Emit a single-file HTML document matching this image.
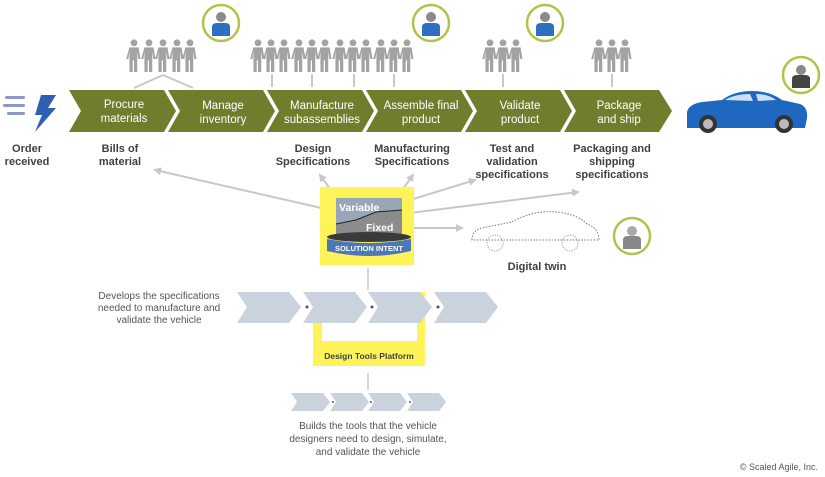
<!DOCTYPE html>
<html><head><meta charset="utf-8"><style>
body{margin:0;background:#fff}
svg{display:block;font-family:"Liberation Sans",sans-serif}
</style></head><body>
<svg width="825" height="477" viewBox="0 0 825 477" xmlns="http://www.w3.org/2000/svg">
<defs>
<g id="p" transform="scale(1.3)"><circle cx="0" cy="-14" r="2.6" fill="#a3a3a3"/><path d="M-3.5,-10.5h7l1.5,9h-1.7l-0.8,-6v16h-2.5v-9h-1v9h-2.5v-16l-0.8,6h-1.7z" fill="#a3a3a3"/></g>
<marker id="a" markerWidth="8" markerHeight="8" refX="6" refY="4" orient="auto" markerUnits="userSpaceOnUse"><path d="M0,0L8,4L0,8z" fill="#c8c8c8"/></marker>
</defs>
<g fill="#8b97c7"><rect x="5" y="96" width="20" height="3" rx="1.5"/><rect x="3" y="104" width="22" height="3" rx="1.5"/><rect x="7" y="112" width="18" height="3" rx="1.5"/></g>
<path d="M41,95h15l-8,13h8l-21,24l7,-17h-7z" fill="#2f5fb4"/>
<text x="27" y="152" font-size="11" font-weight="bold" fill="#404040" text-anchor="middle">Order</text>
<text x="27" y="165" font-size="11" font-weight="bold" fill="#404040" text-anchor="middle">received</text>
<g fill="#6f7d2d">
<path d="M69,90h95l12,21l-12,21h-95l12,-21z"/>
<path d="M168,90h95l12,21l-12,21h-95l12,-21z"/>
<path d="M267,90h95l12,21l-12,21h-95l12,-21z"/>
<path d="M366,90h95l12,21l-12,21h-95l12,-21z"/>
<path d="M465,90h95l12,21l-12,21h-95l12,-21z"/>
<path d="M564,90h95l13,21l-13,21h-95l12,-21z"/>
</g>
<g fill="#fff" font-size="11.5" text-anchor="middle">
<text x="124" y="108">Procure</text><text x="124" y="122">materials</text>
<text x="223" y="109">Manage</text><text x="223" y="123">inventory</text>
<text x="322" y="109">Manufacture</text><text x="322" y="123">subassemblies</text>
<text x="421" y="109">Assemble final</text><text x="421" y="123">product</text>
<text x="520" y="109">Validate</text><text x="520" y="123">product</text>
<text x="619" y="109">Package</text><text x="619" y="123">and ship</text>
</g>
<g fill="#404040" font-size="11" font-weight="bold" text-anchor="middle">
<text x="120" y="152">Bills of</text><text x="120" y="165">material</text>
<text x="313" y="152">Design</text><text x="313" y="165">Specifications</text>
<text x="412" y="152">Manufacturing</text><text x="412" y="165">Specifications</text>
<text x="512" y="152">Test and</text><text x="512" y="165">validation</text><text x="512" y="178">specifications</text>
<text x="612" y="152">Packaging and</text><text x="612" y="165">shipping</text><text x="612" y="178">specifications</text>
</g>
<g>
<use href="#p" x="134" y="61"/><use href="#p" x="149" y="61"/><use href="#p" x="163" y="61"/><use href="#p" x="177" y="61"/><use href="#p" x="190" y="61"/>
<use href="#p" x="258" y="61"/><use href="#p" x="271" y="61"/><use href="#p" x="284" y="61"/><use href="#p" x="299" y="61"/><use href="#p" x="312" y="61"/><use href="#p" x="325" y="61"/><use href="#p" x="340" y="61"/><use href="#p" x="353" y="61"/><use href="#p" x="366" y="61"/><use href="#p" x="381" y="61"/><use href="#p" x="394" y="61"/><use href="#p" x="407" y="61"/>
<use href="#p" x="490" y="61"/><use href="#p" x="503" y="61"/><use href="#p" x="516" y="61"/>
<use href="#p" x="599" y="61"/><use href="#p" x="612" y="61"/><use href="#p" x="625" y="61"/>
</g>
<g stroke="#c8c8c8" stroke-width="2" fill="none">
<path d="M163,75L134,88M163,75L193,88"/>
<path d="M272,74v13M312,74v13M354,74v13M394,74v13M503,74v13M612,74v13"/>
</g>
<g stroke="#b3c24a" stroke-width="2.5" fill="#fff">
<circle cx="221" cy="23" r="18"/><circle cx="431" cy="23" r="18"/><circle cx="545" cy="23" r="18"/><circle cx="801" cy="75" r="18"/><circle cx="632" cy="236" r="18"/>
</g>
<g>
<circle cx="221" cy="17" r="5" fill="#8a8a8a"/><path d="M212,36v-9q0,-4 5,-4h8q5,0 5,4v9z" fill="#2f6fc0"/>
<circle cx="431" cy="17" r="5" fill="#8a8a8a"/><path d="M422,36v-9q0,-4 5,-4h8q5,0 5,4v9z" fill="#2f6fc0"/>
<circle cx="545" cy="17" r="5" fill="#8a8a8a"/><path d="M536,36v-9q0,-4 5,-4h8q5,0 5,4v9z" fill="#2f6fc0"/>
<circle cx="801" cy="70" r="5" fill="#8a8a8a"/><path d="M792,88v-9q0,-4 5,-4h8q5,0 5,4v9z" fill="#444"/>
<circle cx="632" cy="231" r="5" fill="#aaa"/><path d="M623,249v-9q0,-4 5,-4h8q5,0 5,4v9z" fill="#888"/>
</g>
<path d="M687,112q2,-8 15,-10l20,-2q12,-9 30,-9q18,0 30,9l18,4q8,3 7,14l-2,10h-118z" fill="#1f68c0"/>
<path d="M725,100q10,-6 25,-6l3,7zM756,94q12,0 20,6l-18,1z" fill="#cfe0f0"/>
<circle cx="708" cy="124" r="9" fill="#333"/><circle cx="708" cy="124" r="5" fill="#bbb"/>
<circle cx="784" cy="124" r="9" fill="#333"/><circle cx="784" cy="124" r="5" fill="#bbb"/>
<path d="M472,240q0,-10 10,-12l30,-6q20,-12 45,-10q20,2 30,12q12,4 12,16h-127z" fill="none" stroke="#777" stroke-width="1" stroke-dasharray="1.5,1.5"/>
<circle cx="495" cy="243" r="8" fill="none" stroke="#888" stroke-dasharray="1,1.5"/><circle cx="570" cy="243" r="8" fill="none" stroke="#888" stroke-dasharray="1,1.5"/>
<text x="537" y="270" font-size="11" font-weight="bold" fill="#404040" text-anchor="middle">Digital twin</text>
<g stroke="#c8c8c8" stroke-width="2" fill="none" marker-end="url(#a)">
<path d="M330,210L155,170"/><path d="M333,193L320,175"/><path d="M400,193L413,175"/>
<path d="M410,200L475,180"/><path d="M410,213L578,192"/><path d="M412,228L462,228"/>
</g>
<rect x="320" y="187" width="94" height="78" fill="#fff35a"/>
<rect x="336" y="198" width="66" height="38" fill="#9aa6b8"/>
<path d="M336,236v-12l20,-4l20,-8l26,-2v26z" fill="#8c8c8c"/>
<path d="M336,224l20,-4l20,-8l26,-2" stroke="#222" fill="none"/>
<text x="339" y="211" font-size="10.5" font-weight="bold" fill="#fff">Variable</text>
<text x="366" y="231" font-size="10.5" font-weight="bold" fill="#fff">Fixed</text>
<ellipse cx="369" cy="237" rx="42" ry="5" fill="#3a3a3a"/>
<path d="M327,239v12q42,10 84,0v-12q-42,8 -84,0z" fill="#4c78b8"/>
<text x="369" y="251" font-size="7.5" font-weight="bold" fill="#fff" text-anchor="middle">SOLUTION INTENT</text>
<path d="M368,268v22M368,373v17" stroke="#c8c8c8" stroke-width="1.5"/>
<rect x="313" y="292" width="112" height="74" fill="#fff35a"/>
<rect x="322" y="292" width="95" height="49" fill="#fff"/>
<text x="369" y="359" font-size="8.5" font-weight="bold" fill="#404040" text-anchor="middle">Design Tools Platform</text>
<g fill="#c9d2dd">
<path d="M237,292h52l12,15l-12,16h-52l10,-16z"/>
<path d="M303,292h52l12,15l-12,16h-52l10,-16z"/>
<path d="M368,292h52l12,15l-12,16h-52l10,-16z"/>
<path d="M434,292h52l12,15l-12,16h-52l10,-16z"/>
<path d="M291,393h32l7,9l-7,9h-32l6,-9z"/>
<path d="M330,393h32l7,9l-7,9h-32l6,-9z"/>
<path d="M368,393h32l7,9l-7,9h-32l6,-9z"/>
<path d="M407,393h32l7,9l-7,9h-32l6,-9z"/>
</g>
<g fill="#555"><circle cx="307" cy="307" r="1.5"/><circle cx="372" cy="307" r="1.5"/><circle cx="438" cy="307" r="1.5"/><circle cx="333" cy="402" r="1"/><circle cx="371" cy="402" r="1"/><circle cx="410" cy="402" r="1"/></g>
<g font-size="10" fill="#555" text-anchor="middle">
<text x="159" y="299">Develops the specifications</text>
<text x="159" y="311">needed to manufacture and</text>
<text x="159" y="323">validate the vehicle</text>
<text x="368" y="429">Builds the tools that the vehicle</text>
<text x="368" y="442">designers need to design, simulate,</text>
<text x="368" y="455">and validate the vehicle</text>
</g>
<text x="818" y="470" font-size="9" fill="#555" text-anchor="end">© Scaled Agile, Inc.</text>
</svg>
</body></html>
